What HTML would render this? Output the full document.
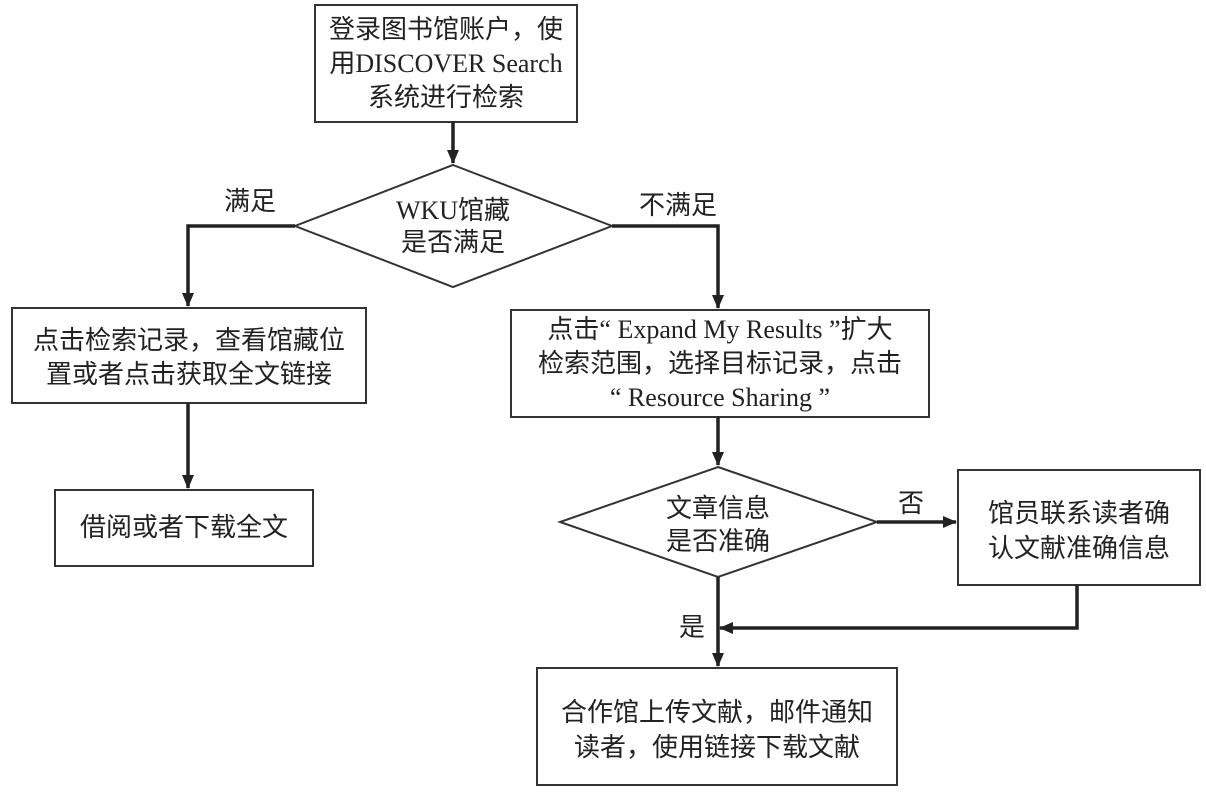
<!DOCTYPE html>
<html><head><meta charset="utf-8"><style>
html,body{margin:0;padding:0;background:#fff;}
svg text{font-family:"Liberation Serif","Noto Sans CJK SC",sans-serif;fill:#222;font-size:26px;text-anchor:middle;}
</style></head><body>
<svg width="1206" height="792" viewBox="0 0 1206 792" xmlns="http://www.w3.org/2000/svg">
<defs>
<marker id="b" markerWidth="14" markerHeight="14" refX="13" refY="7" orient="auto" markerUnits="userSpaceOnUse"><path d="M0,1 L14,7 L0,13 z" fill="#222"/></marker></defs>
<g fill="none" stroke="#333" stroke-width="2">
<rect x="315" y="5" width="262" height="117"/>
<polygon points="453,165 612,226 453,287 295,226"/>
<rect x="12" y="308" width="354" height="95"/>
<rect x="511" y="310" width="418" height="107"/>
<rect x="55" y="490" width="258" height="76"/>
<polygon points="718,467 877,522 718,577 560,522"/>
<rect x="958" y="470" width="242" height="115"/>
<rect x="537" y="668" width="360" height="117"/>
</g>
<g fill="none" stroke="#222" stroke-width="3.5">
<path d="M453,122 V163" marker-end="url(#b)"/>
<path d="M295,226 H188 V306" marker-end="url(#b)"/>
<path d="M612,226 H718 V308" marker-end="url(#b)"/>
<path d="M188,403 V488" marker-end="url(#b)"/>
<path d="M718,417 V465" marker-end="url(#b)"/>
<path d="M877,522 H956" marker-end="url(#b)"/>
<path d="M1077,585 V628 H720" marker-end="url(#b)"/>
<path d="M718,577 V666" marker-end="url(#b)"/>
</g>
<text x="446" y="38">登录图书馆账户，使</text>
<text x="446" y="72">用DISCOVER Search</text>
<text x="446" y="106">系统进行检索</text>
<text x="453" y="219">WKU馆藏</text>
<text x="453" y="251">是否满足</text>
<text x="250" y="210">满足</text>
<text x="678" y="214">不满足</text>
<text x="189" y="349">点击检索记录，查看馆藏位</text>
<text x="189" y="383">置或者点击获取全文链接</text>
<text x="720" y="338">点击“ Expand My Results ”扩大</text>
<text x="720" y="372">检索范围，选择目标记录，点击</text>
<text x="720" y="406">“ Resource Sharing ”</text>
<text x="184" y="536">借阅或者下载全文</text>
<text x="718" y="517">文章信息</text>
<text x="718" y="550">是否准确</text>
<text x="911" y="512">否</text>
<text x="1079" y="522">馆员联系读者确</text>
<text x="1079" y="557">认文献准确信息</text>
<text x="692" y="636">是</text>
<text x="717" y="721">合作馆上传文献，邮件通知</text>
<text x="717" y="756">读者，使用链接下载文献</text>
</svg>
</body></html>
